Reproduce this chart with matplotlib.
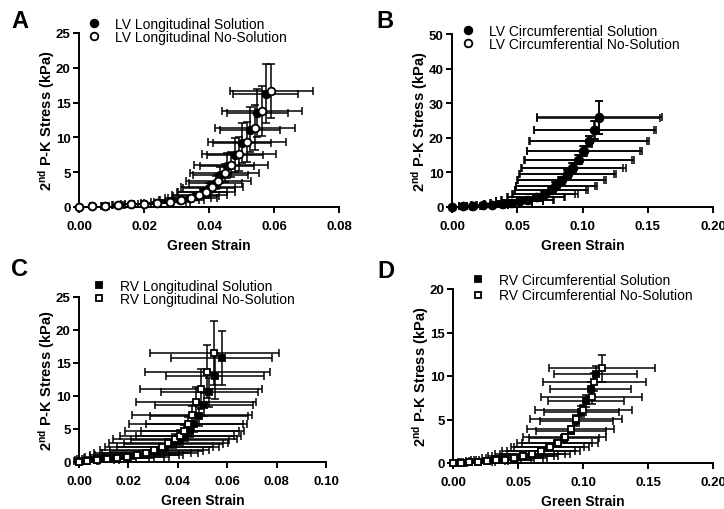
import matplotlib
matplotlib.use('Agg')
import matplotlib.pyplot as plt
from matplotlib.lines import Line2D
from matplotlib.ticker import FormatStrFormatter, FixedLocator

plt.rcParams['font.family'] = ['Liberation Sans', 'DejaVu Sans']
plt.rcParams['font.weight'] = 'bold'
plt.rcParams['mathtext.fontset'] = 'custom'
plt.rcParams['mathtext.rm'] = 'Liberation Sans'
plt.rcParams['mathtext.bf'] = 'Liberation Sans:bold'

# ---------------- Panel A: LV Longitudinal ----------------
a_sol_x = [0.000, 0.004, 0.008, 0.012, 0.016, 0.020, 0.024, 0.028, 0.031, 0.034, 0.036,
           0.038, 0.040, 0.042, 0.0435, 0.0455, 0.048, 0.0502, 0.0526, 0.0548, 0.0574]
a_sol_y = [0.0, 0.1, 0.2, 0.3, 0.4, 0.5, 0.6, 0.75, 0.95, 1.25, 1.6,
           2.1, 2.7, 3.5, 4.6, 5.9, 7.5, 9.2, 11.1, 13.5, 16.3]
a_sol_xerr = [0.0, 0.0005, 0.001, 0.0015, 0.002, 0.003, 0.004, 0.005, 0.006, 0.0065, 0.007,
              0.0075, 0.008, 0.0083, 0.0085, 0.0083, 0.0086, 0.009, 0.0092, 0.0094, 0.010]
a_sol_yerr = [0.0, 0.02, 0.04, 0.06, 0.08, 0.1, 0.12, 0.15, 0.2, 0.3, 0.4,
              0.5, 0.7, 0.9, 1.2, 1.8, 2.4, 2.9, 3.2, 3.5, 4.2]
a_nos_x = [0.000, 0.004, 0.008, 0.012, 0.016, 0.020, 0.024, 0.028, 0.0315, 0.0345, 0.037,
           0.039, 0.041, 0.0428, 0.0448, 0.0468, 0.0492, 0.0517, 0.0542, 0.0563, 0.0592]
a_nos_y = [0.0, 0.1, 0.2, 0.3, 0.4, 0.5, 0.6, 0.75, 0.95, 1.25, 1.7,
           2.2, 2.9, 3.8, 4.9, 6.05, 7.6, 9.35, 11.4, 13.8, 16.7]
a_nos_xerr = [0.0, 0.0006, 0.0012, 0.002, 0.003, 0.004, 0.005, 0.006, 0.007, 0.008, 0.0085,
              0.009, 0.0095, 0.010, 0.0105, 0.0115, 0.0115, 0.012, 0.0123, 0.0122, 0.0128]
a_nos_yerr = [0.0, 0.02, 0.04, 0.06, 0.08, 0.1, 0.12, 0.15, 0.2, 0.3, 0.4,
              0.55, 0.75, 1.0, 1.3, 1.8, 2.4, 2.9, 3.2, 3.6, 3.9]

# ---------------- Panel B: LV Circumferential ----------------
b_sol_x = [0.000, 0.0085, 0.016, 0.024, 0.031, 0.039, 0.0456, 0.052, 0.058, 0.0648, 0.0712,
           0.0763, 0.080, 0.084, 0.0886, 0.093, 0.0973, 0.1014, 0.1052, 0.1096, 0.1129]
b_sol_y = [0.0, 0.2, 0.3, 0.45, 0.6, 0.85, 1.15, 1.6, 2.1, 2.9, 3.8,
           4.8, 6.2, 7.7, 9.6, 11.4, 13.7, 16.2, 19.0, 22.3, 25.9]
b_sol_xerr = [0.0, 0.003, 0.006, 0.009, 0.012, 0.014, 0.016, 0.018, 0.020, 0.022, 0.025,
              0.028, 0.031, 0.034, 0.037, 0.040, 0.042, 0.044, 0.046, 0.047, 0.048]
b_sol_yerr = [0.0, 0.05, 0.08, 0.12, 0.15, 0.2, 0.3, 0.4, 0.5, 0.6, 0.8,
              0.9, 1.0, 1.1, 1.2, 1.3, 1.4, 1.4, 1.6, 2.7, 4.8]
b_nos_x = [0.000, 0.0083, 0.0157, 0.0236, 0.0306, 0.0385, 0.045, 0.0514, 0.0574, 0.0641, 0.0705,
           0.0756, 0.0793, 0.0833, 0.0879, 0.0923, 0.0966, 0.1007, 0.1046, 0.109, 0.1124]
b_nos_y = [0.0, 0.2, 0.3, 0.45, 0.6, 0.85, 1.15, 1.6, 2.1, 2.9, 3.8,
           4.8, 6.2, 7.7, 9.6, 11.4, 13.7, 16.2, 19.0, 22.2, 25.8]
b_nos_xerr = [0.0, 0.003, 0.006, 0.009, 0.012, 0.014, 0.016, 0.018, 0.020, 0.022, 0.024,
              0.027, 0.030, 0.033, 0.036, 0.039, 0.041, 0.043, 0.045, 0.046, 0.047]
b_nos_yerr = [0.0, 0.05, 0.08, 0.12, 0.15, 0.2, 0.3, 0.4, 0.5, 0.6, 0.8,
              0.9, 1.0, 1.1, 1.2, 1.3, 1.4, 1.5, 1.5, 2.6, 4.7]

# ---------------- Panel C: RV Longitudinal ----------------
c_sol_x = [0.000, 0.0031, 0.0072, 0.0112, 0.0152, 0.0193, 0.0233, 0.0274, 0.0314, 0.0348,
           0.0382, 0.0409, 0.0429, 0.0449, 0.0467, 0.0487, 0.0507, 0.0528, 0.0551, 0.0577]
c_sol_y = [0.0, 0.1, 0.25, 0.4, 0.6, 0.8, 1.05, 1.35, 1.7, 2.2,
           2.7, 3.3, 4.0, 4.75, 5.7, 6.9, 8.7, 10.6, 13.0, 15.7]
c_sol_xerr = [0.0, 0.004, 0.007, 0.010, 0.013, 0.015, 0.017, 0.018, 0.019, 0.0195,
              0.020, 0.020, 0.020, 0.020, 0.0196, 0.0198, 0.0199, 0.0198, 0.020, 0.0204]
c_sol_yerr = [0.0, 0.03, 0.06, 0.1, 0.15, 0.2, 0.25, 0.3, 0.4, 0.5,
              0.6, 0.7, 0.8, 0.9, 1.1, 1.4, 1.8, 2.2, 3.5, 4.1]
c_nos_x = [0.000, 0.0031, 0.0072, 0.0112, 0.0152, 0.0193, 0.0233, 0.027, 0.0305, 0.0335,
           0.0362, 0.0389, 0.0409, 0.0426, 0.0442, 0.0457, 0.0475, 0.0493, 0.052, 0.0547]
c_nos_y = [0.0, 0.1, 0.25, 0.4, 0.6, 0.8, 1.05, 1.35, 1.75, 2.3,
           2.9, 3.5, 4.0, 4.75, 5.75, 7.1, 9.1, 11.1, 13.7, 16.5]
c_nos_xerr = [0.0, 0.005, 0.009, 0.012, 0.015, 0.017, 0.019, 0.021, 0.022, 0.023,
              0.024, 0.025, 0.0245, 0.024, 0.024, 0.0243, 0.0243, 0.0247, 0.0253, 0.0261]
c_nos_yerr = [0.0, 0.03, 0.06, 0.1, 0.15, 0.2, 0.25, 0.3, 0.4, 0.5,
              0.6, 0.7, 0.8, 0.9, 1.1, 1.4, 2.2, 3.0, 4.0, 4.9]

# ---------------- Panel D: RV Circumferential ----------------
d_sol_x = [0.000, 0.006, 0.0125, 0.019, 0.026, 0.033, 0.040, 0.047, 0.054, 0.061,
           0.0675, 0.074, 0.080, 0.0855, 0.0905, 0.0949, 0.0987, 0.1023, 0.1059, 0.1097]
d_sol_y = [0.0, 0.05, 0.1, 0.15, 0.22, 0.3, 0.4, 0.55, 0.75, 1.0,
           1.35, 1.8, 2.3, 2.9, 3.7, 4.8, 5.9, 7.1, 8.5, 10.2]
d_sol_xerr = [0.0, 0.004, 0.008, 0.011, 0.014, 0.017, 0.020, 0.022, 0.024, 0.025,
              0.026, 0.027, 0.027, 0.0268, 0.027, 0.0278, 0.029, 0.0296, 0.031, 0.0317]
d_sol_yerr = [0.0, 0.02, 0.03, 0.04, 0.05, 0.06, 0.08, 0.1, 0.12, 0.15,
              0.18, 0.22, 0.27, 0.32, 0.4, 0.5, 0.6, 0.7, 0.8, 0.9]
d_nos_x = [0.000, 0.006, 0.0125, 0.019, 0.026, 0.033, 0.040, 0.047, 0.054, 0.061,
           0.068, 0.0745, 0.0805, 0.0858, 0.0905, 0.0946, 0.1003, 0.1067, 0.1087, 0.1144]
d_nos_y = [0.0, 0.05, 0.1, 0.15, 0.22, 0.3, 0.4, 0.55, 0.75, 1.0,
           1.35, 1.8, 2.3, 3.0, 3.9, 5.05, 6.1, 7.55, 9.3, 10.9]
d_nos_xerr = [0.0, 0.005, 0.009, 0.013, 0.016, 0.019, 0.022, 0.025, 0.027, 0.029,
              0.030, 0.030, 0.031, 0.032, 0.0333, 0.0354, 0.0373, 0.039, 0.0397, 0.0408]
d_nos_yerr = [0.0, 0.02, 0.03, 0.04, 0.05, 0.06, 0.08, 0.1, 0.12, 0.15,
              0.18, 0.22, 0.27, 0.32, 0.4, 0.5, 0.6, 0.8, 1.0, 1.55]

labels_a = ['LV Longitudinal Solution', 'LV Longitudinal No-Solution']
labels_b = ['LV Circumferential Solution', 'LV Circumferential No-Solution']
labels_c = ['RV Longitudinal Solution', 'RV Longitudinal No-Solution']
labels_d = ['RV Circumferential Solution', 'RV Circumferential No-Solution']

W, H = 724, 510
fig = plt.figure(figsize=(W / 100, H / 100), dpi=100)


def px_axes(left, right, top, bottom):
    return [left / W, 1 - bottom / H, (right - left) / W, (bottom - top) / H]


panels = [
    dict(rect=px_axes(79, 339, 34, 208), letter='A', letter_xy=(11, 21),
         sol=(a_sol_x, a_sol_y, a_sol_xerr, a_sol_yerr),
         nos=(a_nos_x, a_nos_y, a_nos_xerr, a_nos_yerr),
         xlim=(0, 0.08), xt=[0, 0.02, 0.04, 0.06, 0.08], ylim=(0, 25), yt=[0, 5, 10, 15, 20, 25],
         marker='o', labels=labels_a, leg_xy=(87.5, 18), lspace=-0.05, open_top=True),
    dict(rect=px_axes(452, 713, 35, 208), letter='B', letter_xy=(376, 21),
         sol=(b_sol_x, b_sol_y, b_sol_xerr, b_sol_yerr),
         nos=(b_nos_x, b_nos_y, b_nos_xerr, b_nos_yerr),
         xlim=(0, 0.20), xt=[0, 0.05, 0.10, 0.15, 0.20], ylim=(0, 50), yt=[0, 10, 20, 30, 40, 50],
         marker='o', labels=labels_b, leg_xy=(461.5, 25), lspace=-0.06, open_top=False),
    dict(rect=px_axes(79, 326, 298, 463), letter='C', letter_xy=(11, 270),
         sol=(c_sol_x, c_sol_y, c_sol_xerr, c_sol_yerr),
         nos=(c_nos_x, c_nos_y, c_nos_xerr, c_nos_yerr),
         xlim=(0, 0.10), xt=[0, 0.02, 0.04, 0.06, 0.08, 0.10], ylim=(0, 25), yt=[0, 5, 10, 15, 20, 25],
         marker='s', labels=labels_c, leg_xy=(92.5, 280), lspace=-0.06, open_top=True),
    dict(rect=px_axes(453, 713, 290, 464), letter='D', letter_xy=(377, 272),
         sol=(d_sol_x, d_sol_y, d_sol_xerr, d_sol_yerr),
         nos=(d_nos_x, d_nos_y, d_nos_xerr, d_nos_yerr),
         xlim=(0, 0.20), xt=[0, 0.05, 0.10, 0.15, 0.20], ylim=(0, 20), yt=[0, 5, 10, 15, 20],
         marker='s', labels=labels_d, leg_xy=(471.5, 274), lspace=0.1, open_top=True),
]

for p in panels:
    ax = fig.add_axes(p['rect'])
    ms = 5.5 if p['marker'] == 'o' else 5.0
    for key in ('sol', 'nos'):
        x, y, xe, ye = p[key]
        ax.errorbar(x, y, xerr=xe, yerr=ye, fmt='none', ecolor='black',
                    elinewidth=1.1, capsize=3, capthick=1.1, zorder=2, clip_on=False)
    order = ['sol', 'nos'] if p['open_top'] else ['nos', 'sol']
    for i, key in enumerate(order):
        x, y, xe, ye = p[key]
        face = 'black' if key == 'sol' else 'white'
        ax.plot(x, y, ls='none', marker=p['marker'], ms=ms, mfc=face, mec='black',
                mew=1.3, zorder=3 + i, clip_on=False)

    ax.set_xlim(*p['xlim'])
    ax.set_ylim(*p['ylim'])
    ax.xaxis.set_major_locator(FixedLocator(p['xt']))
    ax.yaxis.set_major_locator(FixedLocator(p['yt']))
    ax.xaxis.set_major_formatter(FormatStrFormatter('%.2f'))
    ax.yaxis.set_major_formatter(FormatStrFormatter('%d'))
    for s in ('top', 'right'):
        ax.spines[s].set_visible(False)
    for s in ('left', 'bottom'):
        ax.spines[s].set_linewidth(1.4)
    ax.tick_params(direction='out', length=4.5, width=1.4, labelsize=9.5)
    ax.tick_params(axis='x', pad=5)
    ax.tick_params(axis='y', pad=1.5)
    ax.set_xlabel('Green Strain', fontsize=10, fontweight='bold', labelpad=4)
    ax.set_ylabel(r'$\mathbf{2^{nd}}$ P-K Stress (kPa)', fontsize=10.5, fontweight='bold', labelpad=-1)

    handles = [
        Line2D([], [], ls='none', marker=p['marker'], ms=ms, mfc='black', mec='black', mew=1.3),
        Line2D([], [], ls='none', marker=p['marker'], ms=ms, mfc='white', mec='black', mew=1.3),
    ]
    lx, ly = p['leg_xy']
    fig.legend(handles, p['labels'], loc='upper left',
               bbox_to_anchor=(lx / W, 1 - ly / H), bbox_transform=fig.transFigure,
               frameon=False, borderpad=0, borderaxespad=0, handlelength=1.0,
               handletextpad=0.95, labelspacing=p['lspace'],
               prop={'weight': 'normal', 'size': 10})

    tx, ty = p['letter_xy']
    fig.text(tx / W, 1 - ty / H, p['letter'], fontsize=17, fontweight='bold',
             ha='left', va='center')

fig.savefig('out.png', dpi=100)
